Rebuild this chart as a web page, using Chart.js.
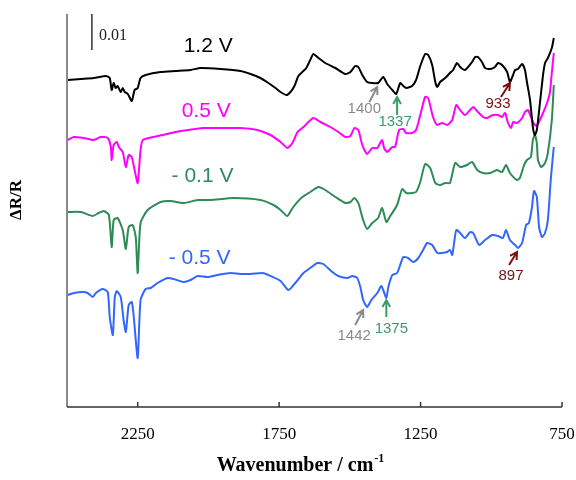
<!DOCTYPE html>
<html>
<head>
<meta charset="utf-8">
<script src="https://cdn.jsdelivr.net/npm/chart.js@4.4.1/dist/chart.umd.min.js"></script>
<style>
  body { margin: 0; background: #fff; }
  #chart { display: block; }
</style>
</head>
<body>
<canvas id="chart" width="576" height="480"></canvas>
<script>
// Offset spectra, [wavenumber cm-1, offset units]; 36 units = 0.01 dR/R (scale bar)
const trace12V = [[2497,327],[2451,328],[2405,329],[2363,331],[2349,329],[2342,317],[2335,324],[2328,319],[2321,321],[2310,315],[2303,319],[2296,315],[2285,313],[2271,306],[2261,317],[2250,319],[2240,329],[2222,332],[2169,335],[2116,336],[2063,337],[2028,339],[1957,338],[1887,336],[1851,333],[1816,329],[1788,324],[1763,319],[1745,315],[1724,312],[1710,315],[1696,321],[1682,331],[1668,335],[1654,339],[1640,347],[1629,353],[1611,349],[1587,344],[1551,339],[1516,333],[1498,335],[1481,341],[1470,340],[1456,332],[1439,325],[1421,324],[1400,324],[1382,330],[1368,323],[1350,317],[1336,313],[1322,324],[1311,321],[1301,319],[1280,321],[1266,327],[1251,341],[1234,353],[1223,352],[1209,342],[1198,325],[1191,320],[1181,325],[1163,329],[1146,334],[1135,337],[1121,344],[1110,340],[1093,337],[1068,345],[1057,350],[1047,350],[1033,345],[1022,339],[1004,338],[987,340],[976,344],[962,342],[944,335],[934,325],[923,332],[916,337],[906,338],[891,343],[881,337],[874,325],[863,307],[853,280],[846,272],[839,277],[828,304],[817,332],[810,344],[800,349],[786,359],[779,369]];

const trace05V = [[2497,267],[2476,270],[2441,269],[2405,267],[2381,270],[2356,269],[2345,260],[2342,247],[2335,262],[2324,265],[2317,260],[2303,255],[2292,240],[2282,252],[2271,250],[2261,237],[2250,224],[2240,257],[2232,267],[2211,269],[2162,272],[2116,275],[2070,277],[2021,279],[1947,279],[1887,279],[1827,277],[1781,272],[1745,265],[1721,259],[1703,264],[1685,275],[1664,280],[1629,289],[1604,285],[1569,280],[1541,275],[1516,270],[1498,271],[1484,279],[1470,277],[1456,262],[1439,253],[1421,259],[1403,259],[1386,267],[1379,259],[1368,255],[1350,260],[1340,260],[1326,277],[1311,278],[1301,274],[1280,274],[1266,277],[1251,292],[1234,310],[1223,309],[1206,290],[1191,282],[1174,284],[1156,282],[1138,287],[1124,302],[1110,297],[1093,292],[1075,297],[1064,300],[1047,295],[1029,290],[1015,289],[994,292],[976,292],[962,290],[951,294],[941,284],[930,279],[923,285],[909,284],[891,289],[881,295],[870,297],[856,287],[846,282],[839,281],[828,287],[817,294],[803,304],[793,314],[786,334],[779,354]];

const traceM01V = [[2497,195],[2451,195],[2409,191],[2388,194],[2370,196],[2352,192],[2342,160],[2335,187],[2321,189],[2303,177],[2292,158],[2282,180],[2268,182],[2257,170],[2250,134],[2240,184],[2215,197],[2169,205],[2134,206],[2088,204],[2038,207],[1993,207],[1911,209],[1816,207],[1770,202],[1745,197],[1721,191],[1700,200],[1668,210],[1640,215],[1611,220],[1587,217],[1551,210],[1516,204],[1498,205],[1484,209],[1470,204],[1453,187],[1439,178],[1421,184],[1400,189],[1386,199],[1371,185],[1357,191],[1333,202],[1315,218],[1301,214],[1280,214],[1266,215],[1251,225],[1234,243],[1216,239],[1198,224],[1181,222],[1163,224],[1146,224],[1128,244],[1110,240],[1086,242],[1068,245],[1050,237],[1029,234],[1004,234],[980,237],[962,235],[948,242],[934,234],[909,227],[899,229],[884,242],[874,247],[860,250],[853,267],[846,272],[839,264],[835,247],[824,240],[810,244],[800,254],[786,287],[779,322]];

const traceM05V = [[2497,112],[2476,114],[2444,115],[2427,114],[2409,110],[2398,114],[2374,118],[2356,115],[2349,90],[2338,72],[2331,110],[2324,116],[2310,110],[2300,87],[2292,75],[2282,102],[2271,105],[2264,90],[2250,49],[2240,107],[2222,118],[2204,119],[2180,124],[2144,129],[2123,128],[2088,125],[2063,127],[2038,131],[2003,130],[1968,132],[1922,134],[1887,133],[1851,133],[1809,134],[1788,132],[1745,126],[1717,117],[1693,124],[1664,134],[1640,139],[1615,144],[1594,143],[1562,135],[1541,131],[1509,129],[1491,131],[1474,129],[1463,120],[1453,107],[1439,100],[1424,107],[1403,114],[1389,121],[1382,117],[1371,109],[1364,120],[1350,132],[1333,134],[1322,142],[1311,150],[1294,149],[1276,145],[1258,149],[1241,157],[1227,164],[1209,162],[1191,154],[1174,154],[1156,155],[1146,157],[1138,152],[1124,177],[1110,174],[1093,169],[1075,175],[1064,174],[1043,162],[1022,167],[997,172],[976,171],[959,169],[948,177],[934,167],[916,162],[906,159],[891,164],[877,182],[867,184],[856,200],[849,216],[839,210],[831,180],[821,170],[810,174],[800,187],[789,230],[779,260]];

const scaleBar = [[2412,357],[2412,393]];
const xTicks = [2250, 1750, 1250, 750];

const seriesNames = ['1.2 V', '0.5 V', '- 0.1 V', '- 0.5 V'];
const seriesColors = ['#000000', '#ff00ff', '#2e8b57', '#3366ff'];
const seriesData = [trace12V, trace05V, traceM01V, traceM05V];

// label anchors in data coordinates
const labelAt = [[2001, 361], [2008, 296], [2021, 231], [2031, 149]];

// peak markers: text, colour, arrow tip [wn, y], tail offset px, text offset px
const peakMarks = [
  { text: '1400', color: '#8a8a8a', tip: [1403, 320], tail: [-8, 15], pos: [-13, 22] },
  { text: '1337', color: '#3a9a68', tip: [1333, 310], tail: [0, 18], pos: [-2, 25] },
  { text: '933', color: '#7a1010', tip: [934, 324], tail: [-9, 14], pos: [-12, 21] },
  { text: '897', color: '#7a1010', tip: [909, 155], tail: [-8, 13], pos: [-6, 24] },
  { text: '1442', color: '#8a8a8a', tip: [1453, 97], tail: [-8, 15], pos: [-9, 26] },
  { text: '1375', color: '#3a9a68', tip: [1371, 107], tail: [0, 17], pos: [5, 29] }
];

const toXY = arr => arr.map(p => ({ x: p[0], y: p[1] }));

const datasets = seriesData.map((d, i) => ({
  label: seriesNames[i],
  data: toXY(d),
  borderColor: seriesColors[i],
  borderWidth: 2,
  pointRadius: 0,
  showLine: true,
  tension: 0.2
}));
datasets.push({
  label: 'scale',
  data: toXY(scaleBar),
  borderColor: '#333',
  borderWidth: 1.5,
  pointRadius: 0,
  showLine: true
});

function arrow(ctx, x1, y1, x2, y2) {
  const ang = Math.atan2(y2 - y1, x2 - x1);
  const h = 8;
  ctx.beginPath();
  ctx.moveTo(x1, y1);
  ctx.lineTo(x2, y2);
  ctx.moveTo(x2 - h * Math.cos(ang - 0.5), y2 - h * Math.sin(ang - 0.5));
  ctx.lineTo(x2, y2);
  ctx.lineTo(x2 - h * Math.cos(ang + 0.5), y2 - h * Math.sin(ang + 0.5));
  ctx.stroke();
}

const decor = {
  id: 'decor',
  afterDraw(chart) {
    const { ctx, chartArea: a, scales: { x, y } } = chart;
    ctx.save();

    // axes
    ctx.strokeStyle = '#8a8a8a';
    ctx.lineWidth = 2;
    ctx.beginPath();
    ctx.moveTo(a.left, a.top);
    ctx.lineTo(a.left, a.bottom);
    ctx.stroke();
    ctx.strokeStyle = '#333';
    ctx.lineWidth = 1.5;
    ctx.beginPath();
    ctx.moveTo(a.left, a.bottom);
    ctx.lineTo(a.right, a.bottom);
    xTicks.forEach(t => {
      const px = x.getPixelForValue(t);
      ctx.moveTo(px, a.bottom);
      ctx.lineTo(px, a.bottom - 5);
    });
    ctx.stroke();

    // axis titles
    ctx.fillStyle = '#000';
    ctx.font = 'bold 20px "Liberation Serif", "Times New Roman", serif';
    ctx.textBaseline = 'alphabetic';
    ctx.textAlign = 'left';
    const main = 'Wavenumber / cm';
    const w1 = ctx.measureText(main).width;
    ctx.font = 'bold 12px "Liberation Serif", "Times New Roman", serif';
    const w2 = ctx.measureText('-1').width;
    const tx = 300 - (w1 + w2) / 2;
    ctx.font = 'bold 20px "Liberation Serif", "Times New Roman", serif';
    ctx.fillText(main, tx, 471);
    ctx.font = 'bold 12px "Liberation Serif", "Times New Roman", serif';
    ctx.fillText('-1', tx + w1 + 1, 462);

    ctx.save();
    ctx.translate(17, 200);
    ctx.rotate(-Math.PI / 2);
    ctx.textAlign = 'center';
    ctx.textBaseline = 'middle';
    ctx.font = 'bold 17px "Liberation Serif", "Times New Roman", serif';
    ctx.fillText('\u0394R/R', 0, 0);
    ctx.restore();

    // scale bar value
    ctx.font = '16px "Liberation Serif", "Times New Roman", serif';
    ctx.textAlign = 'left';
    ctx.textBaseline = 'middle';
    ctx.fillStyle = '#222';
    ctx.fillText('0.01', x.getPixelForValue(scaleBar[0][0]) + 7, 36);

    // series labels
    ctx.font = '21px "Liberation Sans", Arial, sans-serif';
    ctx.textAlign = 'center';
    labelAt.forEach((p, i) => {
      ctx.fillStyle = seriesColors[i];
      ctx.fillText(seriesNames[i], x.getPixelForValue(p[0]), y.getPixelForValue(p[1]));
    });

    // peak markers
    ctx.font = '15px "Liberation Sans", Arial, sans-serif';
    ctx.lineWidth = 2;
    peakMarks.forEach(m => {
      const px = x.getPixelForValue(m.tip[0]);
      const py = y.getPixelForValue(m.tip[1]);
      ctx.strokeStyle = m.color;
      ctx.fillStyle = m.color;
      arrow(ctx, px + m.tail[0], py + m.tail[1], px, py);
      ctx.fillText(m.text, px + m.pos[0], py + m.pos[1]);
    });
    ctx.restore();
  }
};

new Chart(document.getElementById('chart'), {
  type: 'scatter',
  data: { datasets: datasets },
  options: {
    responsive: false,
    animation: false,
    layout: { padding: { left: 67, right: 14, top: 14, bottom: 0 } },
    plugins: { legend: { display: false }, tooltip: { enabled: false } },
    scales: {
      x: {
        type: 'linear',
        reverse: true,
        min: 750,
        max: 2500,
        grid: { display: false },
        border: { display: false },
        afterBuildTicks: s => { s.ticks = xTicks.map(v => ({ value: v })); },
        afterFit: s => {
          s.height = 73;
          s.paddingLeft = 0;
          s.paddingRight = 0;
        },
        ticks: {
          color: '#000',
          padding: 9,
          maxRotation: 0,
          callback: v => String(v),
          font: { family: '"Liberation Serif", "Times New Roman", serif', size: 17 }
        }
      },
      y: {
        display: false,
        min: 0,
        max: 393
      }
    }
  },
  plugins: [decor]
});
</script>
</body>
</html>
